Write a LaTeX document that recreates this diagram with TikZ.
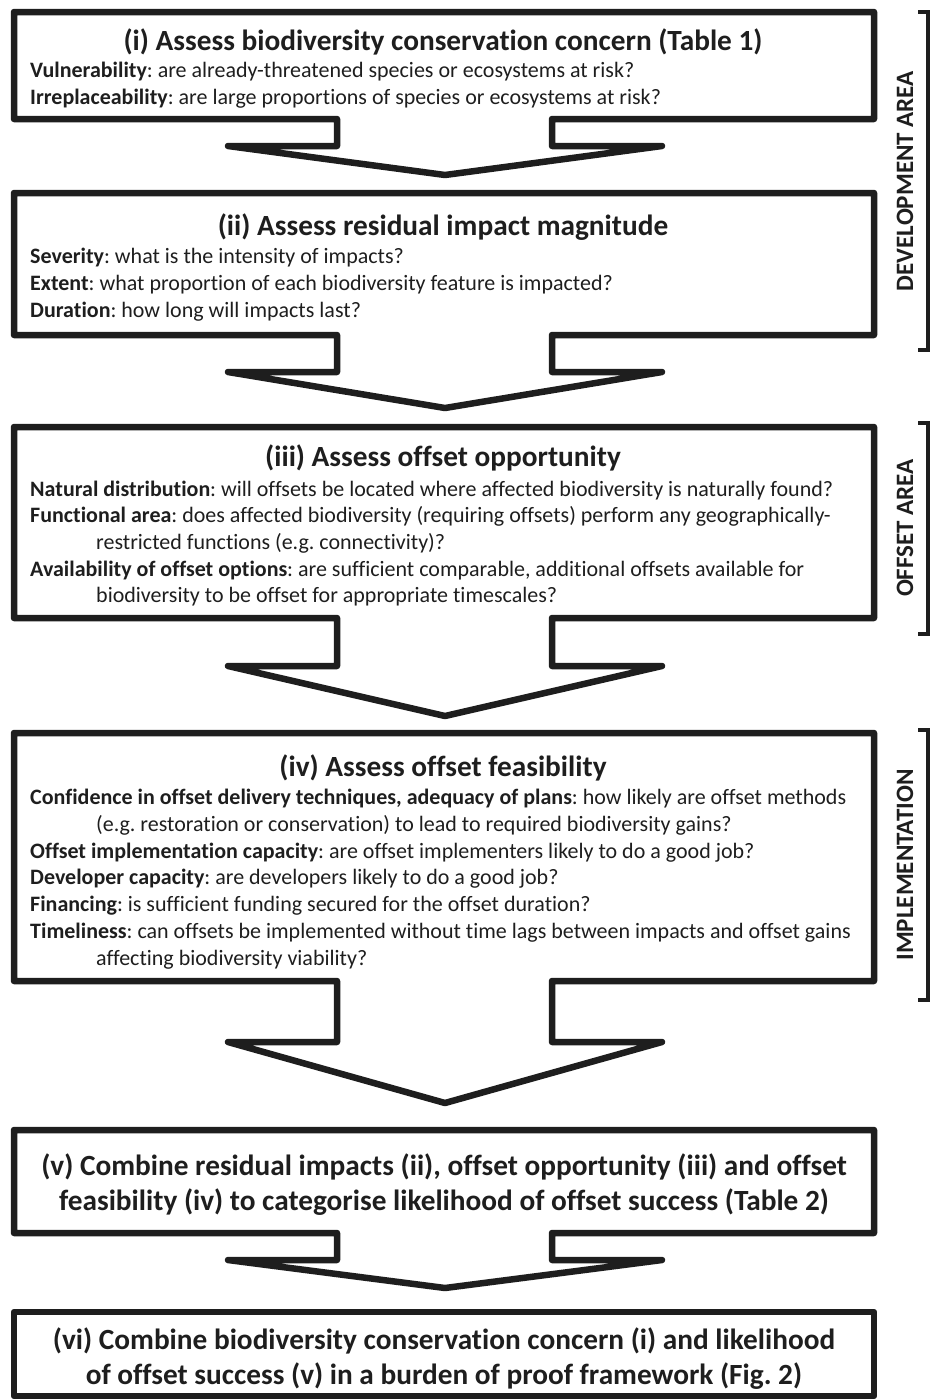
\documentclass[tikz,border=0pt]{standalone}
\usepackage{fontspec}
\setmainfont{Carlito}[Ligatures={NoCommon}]
\definecolor{ink}{HTML}{1E1E1E}
\frenchspacing
\begin{document}
\frenchspacing
\begin{tikzpicture}[x=1pt,y=-1pt,
  boxline/.style={draw=ink, line width=6.5pt, line join=round, line cap=round},
  brack/.style={draw=ink, line width=3.5pt, line join=miter},
  ttl/.style={font=\fontsize{29.3}{32}\selectfont\bfseries, text=ink, inner sep=0pt, anchor=base},
  body/.style={font=\fontsize{22}{26}\selectfont, text=ink, inner sep=0pt, anchor=base west},
  side/.style={font=\fontsize{25}{28}\selectfont\bfseries, text=ink, inner sep=0pt, rotate=90}]
\useasboundingbox (0,0) rectangle (932,1400);

% ---- box outlines with merged down-arrows
% L=14 R=874 stems 337/552 wings 228/662 tip x 445
\draw[boxline] (14,12) -- (874,12) -- (874,119) -- (552,119) -- (552,146) -- (662,146) -- (445,175) -- (228,146) -- (337,146) -- (337,119) -- (14,119) -- cycle;
\draw[boxline] (14,193) -- (874,193) -- (874,335) -- (552,335) -- (552,372) -- (662,372) -- (445,408) -- (228,372) -- (337,372) -- (337,335) -- (14,335) -- cycle;
\draw[boxline] (14,427) -- (874,427) -- (874,618) -- (552,618) -- (552,666) -- (662,666) -- (445,716) -- (228,666) -- (337,666) -- (337,618) -- (14,618) -- cycle;
\draw[boxline] (14,733) -- (874,733) -- (874,981) -- (552,981) -- (552,1042) -- (662,1042) -- (445,1103) -- (228,1042) -- (337,1042) -- (337,981) -- (14,981) -- cycle;
\draw[boxline] (14,1130) -- (874,1130) -- (874,1233) -- (552,1233) -- (552,1260) -- (662,1260) -- (445,1288) -- (228,1260) -- (337,1260) -- (337,1233) -- (14,1233) -- cycle;
\draw[boxline] (14,1312) rectangle (874,1396);

% ---- box (i)
\node[ttl] (t1) at (443,50) {(i) Assess biodiversity conservation concern (Table 1)};
\node[body] (b1a) at (30,77) {\textbf{Vulnerability}: are already-threatened species or ecosystems at risk?};
\node[body] (b1b) at (30,104) {\textbf{Irreplaceability}: are large proportions of species or ecosystems at risk?};

% ---- box (ii)
\node[ttl] (t2) at (443,235) {(ii) Assess residual impact magnitude};
\node[body] (b2a) at (30,263) {\textbf{Severity}: what is the intensity of impacts?};
\node[body] (b2b) at (30,290) {\textbf{Extent}: what proportion of each biodiversity feature is impacted?};
\node[body] (b2c) at (30,317) {\textbf{Duration}: how long will impacts last?};

% ---- box (iii)
\node[ttl] (t3) at (443,466) {(iii) Assess offset opportunity};
\node[body] (b3a) at (30,496) {\textbf{Natural distribution}: will offsets be located where affected biodiversity is naturally found?};
\node[body] (b3b) at (30,522) {\textbf{Functional area}: does affected biodiversity (requiring offsets) perform any geographically-};
\node[body] (b3c) at (96,549) {restricted functions (e.g. connectivity)?};
\node[body] (b3d) at (30,576) {\textbf{Availability of offset options}: are sufficient comparable, additional offsets available for};
\node[body] (b3e) at (96,602) {biodiversity to be offset for appropriate timescales?};

% ---- box (iv)
\node[ttl] (t4) at (443,776) {(iv) Assess offset feasibility};
\node[body] (b4a) at (30,804) {\textbf{Confidence in offset delivery techniques, adequacy of plans}: how likely are offset methods};
\node[body] (b4b) at (96,831) {(e.g. restoration or conservation) to lead to required biodiversity gains?};
\node[body] (b4c) at (30,858) {\textbf{Offset implementation capacity}: are offset implementers likely to do a good job?};
\node[body] (b4d) at (30,884) {\textbf{Developer capacity}: are developers likely to do a good job?};
\node[body] (b4e) at (30,911) {\textbf{Financing}: is sufficient funding secured for the offset duration?};
\node[body] (b4f) at (30,938) {\textbf{Timeliness}: can offsets be implemented without time lags between impacts and offset gains};
\node[body] (b4g) at (96,965) {affecting biodiversity viability?};

% ---- box (v)
\node[ttl] (t5a) at (444,1175) {(v) Combine residual impacts (ii), offset opportunity (iii) and offset};
\node[ttl] (t5b) at (444,1210) {feasibility (iv) to categorise likelihood of offset success (Table 2)};

% ---- box (vi)
\node[ttl] (t6a) at (444,1349) {(vi) Combine biodiversity conservation concern (i) and likelihood};
\node[ttl] (t6b) at (444,1384) {of offset success (v) in a burden of proof framework (Fig. 2)};

% ---- side brackets
\draw[brack] (918,12) -- (928,12) -- (928,350) -- (918,350);
\draw[brack] (918,423) -- (928,423) -- (928,634) -- (918,634);
\draw[brack] (918,730) -- (928,730) -- (928,1000) -- (918,1000);
\node[side] (dev) at (905,181) {DEVELOPMENT AREA};
\node[side] (off) at (905,528) {OFFSET AREA};
\node[side] (imp) at (905,865) {IMPLEMENTATION};
\end{tikzpicture}
\end{document}
